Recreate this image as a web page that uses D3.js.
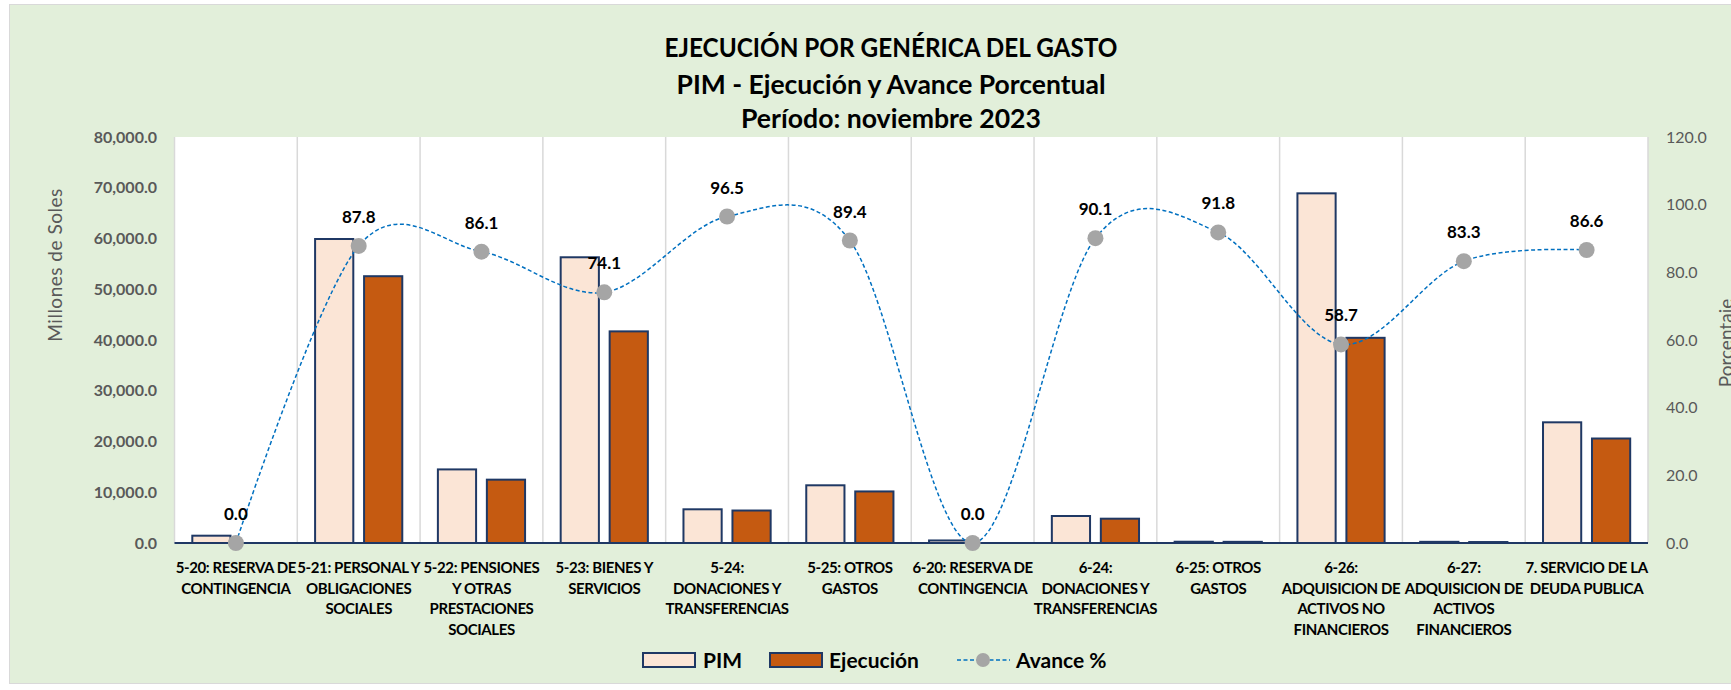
<!DOCTYPE html>
<html>
<head>
<meta charset="utf-8">
<script src="https://cdn.jsdelivr.net/npm/d3@7"></script>
<style>
  body { margin: 0; background: #ffffff; }
  svg { display: block; font-family: Lato, "Open Sans", sans-serif; }
</style>
</head>
<body>
<svg id="chart" width="1731" height="690"></svg>
<script>
// categorias (ya partidas en renglones como en el original)
const categorias = [
  ["5-20: RESERVA DE", "CONTINGENCIA"],
  ["5-21: PERSONAL Y", "OBLIGACIONES", "SOCIALES"],
  ["5-22: PENSIONES", "Y OTRAS", "PRESTACIONES", "SOCIALES"],
  ["5-23: BIENES Y", "SERVICIOS"],
  ["5-24:", "DONACIONES Y", "TRANSFERENCIAS"],
  ["5-25: OTROS", "GASTOS"],
  ["6-20: RESERVA DE", "CONTINGENCIA"],
  ["6-24:", "DONACIONES Y", "TRANSFERENCIAS"],
  ["6-25: OTROS", "GASTOS"],
  ["6-26:", "ADQUISICION DE", "ACTIVOS NO", "FINANCIEROS"],
  ["6-27:", "ADQUISICION DE", "ACTIVOS", "FINANCIEROS"],
  ["7. SERVICIO DE LA", "DEUDA PUBLICA"]
];
// millones de soles
const pim       = [1440, 59900, 14500, 56300, 6640, 11370, 500, 5320, 250, 68900, 230, 23780];
const ejecucion = [0, 52570, 12480, 41700, 6400, 10160, 0, 4790, 230, 40430, 190, 20590];
// porcentaje
const avance    = [0.0, 87.8, 86.1, 74.1, 96.5, 89.4, 0.0, 90.1, 91.8, 58.7, 83.3, 86.6];

const ticksMillones = [0, 10000, 20000, 30000, 40000, 50000, 60000, 70000, 80000];
const ticksPorcentaje = [0, 20, 40, 60, 80, 100, 120];
const series = ["PIM", "Ejecución"];
const titulo = ["EJECUCIÓN POR GENÉRICA DEL GASTO", "PIM - Ejecución y Avance Porcentual", "Período: noviembre 2023"];

const svg = d3.select("#chart");

// area del grafico (fondo verde)
svg.append("rect")
  .attr("x", 9.5).attr("y", 4.5)
  .attr("width", 1740).attr("height", 679)
  .attr("fill", "#E2EFDA")
  .attr("stroke", "#D9D9D9");

const plot = { left: 174.5, right: 1648, top: 137, bottom: 543 };

// area de trazado blanca
svg.append("rect")
  .attr("x", plot.left).attr("y", plot.top)
  .attr("width", plot.right - plot.left).attr("height", plot.bottom - plot.top)
  .attr("fill", "#ffffff");

const datos = categorias.map((c, i) => ({
  key: c.join(" "), lines: c, PIM: pim[i], "Ejecución": ejecucion[i], avance: avance[i]
}));

const x0 = d3.scaleBand().domain(datos.map(d => d.key)).range([plot.left, plot.right]);
const bw = x0.bandwidth();
const x1 = d3.scaleBand().domain(series).range([0.145 * bw, 0.855 * bw]).paddingInner(0.22);
const yL = d3.scaleLinear().domain([0, 80000]).range([plot.bottom, plot.top]);
const yR = d3.scaleLinear().domain([0, 120]).range([plot.bottom, plot.top]);

// lineas verticales entre categorias
svg.append("g").selectAll("line")
  .data(d3.range(datos.length + 1))
  .enter().append("line")
  .attr("x1", i => plot.left + i * bw).attr("x2", i => plot.left + i * bw)
  .attr("y1", plot.top).attr("y2", plot.bottom)
  .attr("stroke", "#D9D9D9").attr("stroke-width", 1.5);

// ejes
const ejeIzq = svg.append("g")
  .attr("transform", `translate(${plot.left},0)`)
  .call(d3.axisLeft(yL).tickValues(ticksMillones).tickFormat(d3.format(",.1f")).tickSize(0).tickPadding(17.5));
ejeIzq.select(".domain").remove();
ejeIzq.selectAll("text")
  .attr("fill", "#595959").attr("font-size", "16px").attr("font-weight", "bold")
  .attr("font-family", "Lato");

const ejeDer = svg.append("g")
  .attr("transform", `translate(${plot.right},0)`)
  .call(d3.axisRight(yR).tickValues(ticksPorcentaje).tickFormat(d3.format(".1f")).tickSize(0).tickPadding(18));
ejeDer.select(".domain").remove();
ejeDer.selectAll("text")
  .attr("fill", "#595959").attr("font-size", "16px")
  .attr("font-family", "Lato");

// barras
const grupos = svg.append("g").selectAll("g")
  .data(datos)
  .enter().append("g")
  .attr("transform", d => `translate(${x0(d.key)},0)`);

grupos.selectAll("rect")
  .data(d => series.map(s => ({ s: s, v: d[s] })))
  .enter().append("rect")
  .attr("x", d => x1(d.s))
  .attr("y", d => yL(d.v))
  .attr("width", x1.bandwidth())
  .attr("height", d => plot.bottom - yL(d.v))
  .attr("fill", d => d.s === "PIM" ? "#FBE5D6" : "#C55A11")
  .attr("stroke", "#1F3864")
  .attr("stroke-width", 2);

// linea del eje x
svg.append("line")
  .attr("x1", plot.left).attr("x2", plot.right)
  .attr("y1", plot.bottom).attr("y2", plot.bottom)
  .attr("stroke", "#1F3864").attr("stroke-width", 2);

// avance % (linea suavizada)
const cx = d => x0(d.key) + bw / 2;
const linea = d3.line().x(cx).y(d => yR(d.avance)).curve(d3.curveCardinal);

svg.append("path")
  .datum(datos)
  .attr("d", linea)
  .attr("fill", "none")
  .attr("stroke", "#0070C0")
  .attr("stroke-width", 1.5)
  .attr("stroke-dasharray", "4,2.5");

svg.append("g").selectAll("circle")
  .data(datos)
  .enter().append("circle")
  .attr("cx", cx).attr("cy", d => yR(d.avance))
  .attr("r", 8).attr("fill", "#A5A5A5");

svg.append("g").selectAll("text")
  .data(datos)
  .enter().append("text")
  .attr("x", cx).attr("y", d => yR(d.avance) - 23)
  .attr("text-anchor", "middle")
  .attr("font-size", "17px").attr("font-weight", "bold")
  .text(d => d3.format(".1f")(d.avance));

// etiquetas de categoria
const etiquetas = svg.append("g").selectAll("text")
  .data(datos)
  .enter().append("text")
  .attr("text-anchor", "middle")
  .attr("font-size", "15px").attr("font-weight", "bold")
  .attr("letter-spacing", "-0.4px")
  .attr("fill", "#000");
etiquetas.selectAll("tspan")
  .data(d => d.lines.map(l => ({ l: l, x: cx(d) })))
  .enter().append("tspan")
  .attr("x", d => d.x)
  .attr("y", (d, i) => 573 + i * 20.7)
  .text(d => d.l);

// titulos de ejes
svg.append("text")
  .attr("transform", "translate(62,265) rotate(-90)")
  .attr("text-anchor", "middle")
  .attr("font-size", "19px").attr("fill", "#595959")
  .attr("letter-spacing", "0.5px")
  .text("Millones de Soles");

svg.append("text")
  .attr("transform", "translate(1733,343) rotate(-90)")
  .attr("text-anchor", "middle")
  .attr("font-size", "19px").attr("fill", "#595959")
  .text("Porcentaje");

// titulo
const largos = [453, 429, 300];
svg.append("g").selectAll("text")
  .data(titulo)
  .enter().append("text")
  .attr("x", 891)
  .attr("y", (d, i) => [57, 94, 128][i])
  .attr("text-anchor", "middle")
  .attr("font-size", "26px").attr("font-weight", "bold")
  .attr("textLength", (d, i) => largos[i])
  .attr("lengthAdjust", "spacingAndGlyphs")
  .text(d => d);

// leyenda
const ley = svg.append("g");
ley.append("rect").attr("x", 643).attr("y", 653).attr("width", 52).attr("height", 14)
  .attr("fill", "#FBE5D6").attr("stroke", "#1F3864").attr("stroke-width", 2);
ley.append("text").attr("x", 703).attr("y", 668).attr("font-size", "21px").attr("font-weight", "bold").text("PIM");
ley.append("rect").attr("x", 770).attr("y", 653).attr("width", 52).attr("height", 14)
  .attr("fill", "#C55A11").attr("stroke", "#1F3864").attr("stroke-width", 2);
ley.append("text").attr("x", 829).attr("y", 668).attr("font-size", "21px").attr("font-weight", "bold").text("Ejecución");
ley.append("line").attr("x1", 957).attr("x2", 1010).attr("y1", 660).attr("y2", 660)
  .attr("stroke", "#0070C0").attr("stroke-width", 1.5).attr("stroke-dasharray", "4,2.5");
ley.append("circle").attr("cx", 983).attr("cy", 660).attr("r", 7).attr("fill", "#A5A5A5");
ley.append("text").attr("x", 1016).attr("y", 668).attr("font-size", "21px").attr("font-weight", "bold").text("Avance %");
</script>
</body>
</html>
